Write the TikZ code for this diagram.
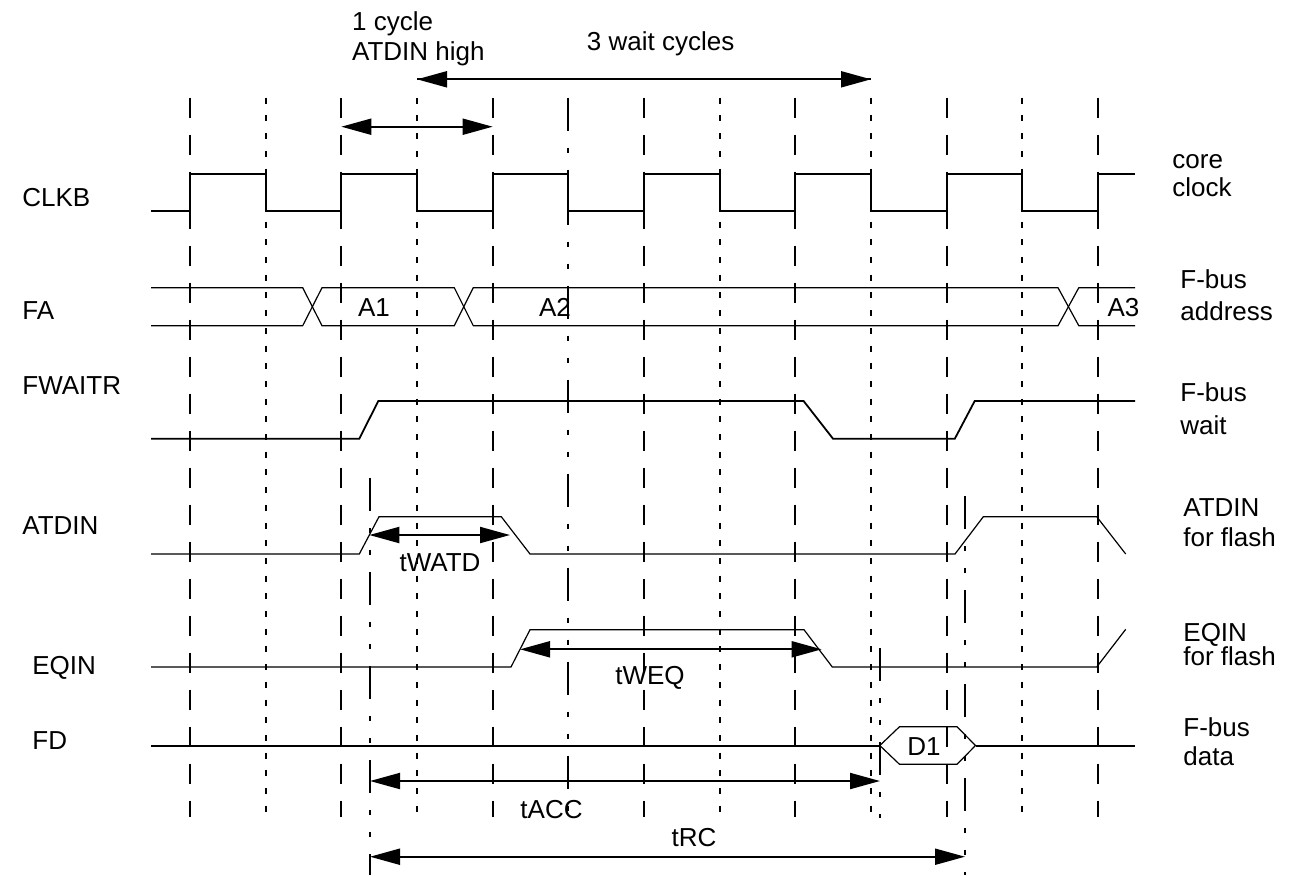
\documentclass[tikz,border=0pt]{standalone}
\usepackage{fontspec}
\setmainfont{Liberation Sans}
\usetikzlibrary{arrows.meta}
\tikzset{
  gridL/.style={line width=1pt, dash pattern=on 10pt off 8.5pt},
  gridS/.style={line width=1pt, dash pattern=on 3pt off 5.85pt},
  gridD/.style={line width=1pt, dash pattern=on 16.5pt off 8.5pt on 2.5pt off 8.5pt on 2.5pt off 8.5pt},
  clk/.style={line width=1pt, line join=miter},
  sigthin/.style={line width=0.6pt, line join=miter},
  sigmid/.style={line width=0.9pt, line join=miter},
  dimarrow/.style={line width=1pt, {Triangle[length=15pt,width=8pt]}-{Triangle[length=15pt,width=8pt]}},
  onearrow/.style={line width=1pt, -{Triangle[length=15pt,width=8pt]}},
  lbl/.style={font=\fontsize{13}{15.5}\selectfont, inner sep=0pt, anchor=base west},
  ctr/.style={font=\fontsize{13}{15.5}\selectfont, inner sep=0pt, anchor=base},
}
\begin{document}
\begin{tikzpicture}[x=0.5pt,y=-0.5pt]
\useasboundingbox (0,0) rectangle (1294,875);
% grid lines
\foreach \gx in {190,341.33,492.67,644,795.33,946.67,1098}
  \draw[gridL] (\gx,97.7) -- (\gx,817);
\foreach \gx in {265.67,417,719.67,871,1022.33}
  \draw[gridS] (\gx,97.7) -- (\gx,817);
\draw[gridD] (568.33,97.7) -- (568.33,817);
% marker lines
\draw[gridD] (370,478) -- (370,875);
\draw[gridD] (879.8,648) -- (879.8,818);
\draw[gridD] (965,496) -- (965,875);

% CLKB
\draw[clk] (151,211.3) -- (190,211.3) -- (190,173.7) -- (265.67,173.7) -- (265.67,211.3)
  -- (341.33,211.3) -- (341.33,173.7) -- (417,173.7) -- (417,211.3)
  -- (492.67,211.3) -- (492.67,173.7) -- (568.33,173.7) -- (568.33,211.3)
  -- (644,211.3) -- (644,173.7) -- (719.67,173.7) -- (719.67,211.3)
  -- (795.33,211.3) -- (795.33,173.7) -- (871,173.7) -- (871,211.3)
  -- (946.67,211.3) -- (946.67,173.7) -- (1022.33,173.7) -- (1022.33,211.3)
  -- (1098,211.3) -- (1098,173.7) -- (1135,173.7);

% FA
\draw[sigthin] (151,287.7) -- (302.7,287.7) -- (322,325.7) -- (454.3,325.7) -- (473.3,287.7) -- (1058,287.7) -- (1078.8,325.7) -- (1135,325.7);
\draw[sigthin] (151,325.7) -- (302.7,325.7) -- (322,287.7) -- (454.3,287.7) -- (473.3,325.7) -- (1058,325.7) -- (1078.8,287.7) -- (1135,287.7);
\node[ctr] (a1) at (374,316) {A1};
\node[ctr] (a2) at (555,316) {A2};
\node[ctr] (a3) at (1123.5,316.7) {A3};

% FWAITR
\draw[sigmid] (151,438.7) -- (359.3,438.7) -- (378.3,401) -- (803.6,401) -- (833,438.7) -- (954.8,438.7) -- (974.7,401) -- (1135,401);

% ATDIN
\draw[sigthin] (151,554) -- (359.3,554) -- (379,516.7) -- (501.3,516.7) -- (530,554) -- (955,554) -- (983.3,516.7) -- (1096.7,516.7) -- (1125.7,554);

% EQIN
\draw[sigthin] (151,667) -- (511,667) -- (530,629.7) -- (804,629.7) -- (832.3,667) -- (1096.7,667) -- (1125.7,629.3);

% FD
\coordinate (hexL) at (879.8,745.5);
\coordinate (hexR) at (975.5,745.5);
\draw[clk] (151,745.5) -- (hexL);
\draw[sigthin] (hexL) -- (899.5,726.7) -- (957,726.7) -- (hexR) -- (957,764.3) -- (899.5,764.3) -- cycle;
\draw[clk] (hexR) -- (1135,745.5);
\node[ctr] (d1) at (924,755) {D1};

% dimension arrows
\coordinate (w3a) at (417,79.3);  \coordinate (w3b) at (871,79.3);
\draw[onearrow] (w3b) -- (w3a);
\draw[onearrow] (w3a) -- (w3b);
\coordinate (c1a) at (341.33,126.7); \coordinate (c1b) at (492.67,126.7);
\draw[dimarrow] (c1a) -- (c1b);
\coordinate (wa) at (369.3,535); \coordinate (wb) at (510,535);
\draw[dimarrow] (wa) -- (wb);
\coordinate (qa) at (520,649.3); \coordinate (qb) at (821.7,649.3);
\draw[dimarrow] (qa) -- (qb);
\coordinate (acca) at (370,781); \coordinate (accb) at (880,781);
\draw[dimarrow] (acca) -- (accb);
\coordinate (rca) at (370,856.7); \coordinate (rcb) at (965,856.7);
\draw[dimarrow] (rca) -- (rcb);

\node[ctr] (twatd) at (440,571.7) {tWATD};
\node[ctr] (tweq) at (650,684) {tWEQ};
\node[ctr] (tacc) at (551.5,818) {tACC};
\node[ctr] (trc) at (694,846.7) {tRC};

% top labels
\node[lbl] (cyc1) at (351.7,30) {1 cycle};
\node[lbl] (cyc2) at (351.7,60) {ATDIN high};
\node[lbl] (wait3) at (586.5,50) {3 wait cycles};

% left labels
\node[lbl] (lclkb) at (22,206) {CLKB};
\node[lbl] (lfa) at (22,319) {FA};
\node[lbl] (lfw) at (22,394) {FWAITR};
\node[lbl] (lat) at (22,534) {ATDIN};
\node[lbl] (leq) at (32,674) {EQIN};
\node[lbl] (lfd) at (32,749) {FD};

% right labels
\node[lbl] (r1a) at (1172,168) {core};
\node[lbl] (r1b) at (1172,196) {clock};
\node[lbl] (r2a) at (1180,288.3) {F-bus};
\node[lbl] (r2b) at (1180,320) {address};
\node[lbl] (r3a) at (1180,401.7) {F-bus};
\node[lbl] (r3b) at (1180,434) {wait};
\node[lbl] (r4a) at (1183,516.7) {ATDIN};
\node[lbl] (r4b) at (1183,546.7) {for flash};
\node[lbl] (r5a) at (1183,641) {EQIN};
\node[lbl] (r5b) at (1183,665) {for flash};
\node[lbl] (r6a) at (1183,736.7) {F-bus};
\node[lbl] (r6b) at (1183,765) {data};
\end{tikzpicture}
\end{document}
